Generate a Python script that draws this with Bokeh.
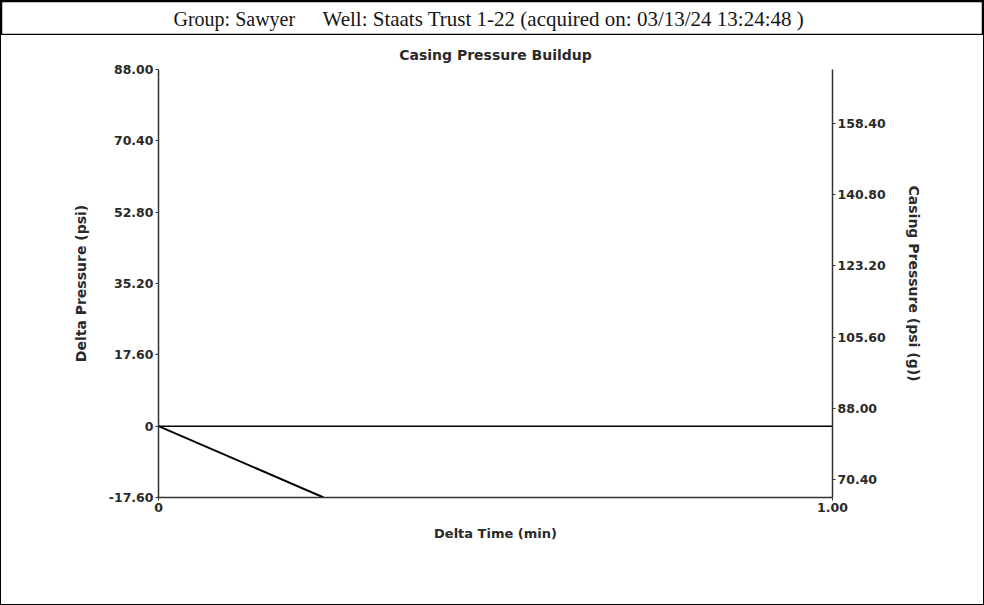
from bokeh.plotting import figure
from bokeh.models import Range1d, LinearAxis, FixedTicker, CustomJSTickFormatter
from bokeh.layouts import column
from bokeh.embed import file_html
from bokeh.resources import INLINE
from bokeh.core.properties import value

header_group = "Group: Sawyer"
header_well = "Well: Staats Trust 1-22 (acquired on: 03/13/24 13:24:48 )"
chart_title = "Casing Pressure Buildup"
x_label = "Delta Time (min)"
left_label = "Delta Pressure (psi)"
right_label = "Casing Pressure (psi (g))"

# data
time_min = [0.0, 0.245]
delta_psi = [0.0, -17.6]
casing_time = [0.0, 1.0]
casing_psi = [83.6, 83.6]

x_ticks = [0.0, 1.0]
left_ticks = [-17.6, 0.0, 17.6, 35.2, 52.8, 70.4, 88.0]
right_ticks = [70.4, 88.0, 105.6, 123.2, 140.8, 158.4]

FONT = "DejaVu Sans"
TXT = "#2a2a2a"
W = 982

# header strip
h = figure(width=W, height=34, x_range=(0, W), y_range=(0, 34),
           toolbar_location=None, output_backend="svg", min_border=0,
           x_axis_location=None, y_axis_location=None)
h.frame_align = False
h.grid.visible = False
h.outline_line_color = "black"
h.outline_line_width = 1.5
h.text(x=[172], y=[17], text=[header_group], text_align="left",
       text_baseline="middle", text_font=value("Liberation Serif"),
       text_font_size="20px", text_color="#151515")
h.text(x=[321], y=[17], text=[header_well], text_align="left",
       text_baseline="middle", text_font=value("Liberation Serif"),
       text_font_size="21px", text_color="#151515")

# main chart
p = figure(width=W, height=569, x_range=Range1d(0, 1), y_range=Range1d(-17.6, 88.0),
           toolbar_location=None, output_backend="svg",
           min_border_left=157, min_border_right=151, min_border_top=34, min_border_bottom=107)
p.frame_align = False
p.extra_y_ranges = {"casing": Range1d(66.0, 171.6)}
p.grid.visible = False
p.outline_line_color = None

p.title.text = chart_title
p.title.align = "center"
p.title.offset = -5
p.title.text_font = FONT
p.title.text_font_style = "bold"
p.title.text_font_size = "14px"
p.title.text_color = TXT
p.title.standoff = 13

fmt = CustomJSTickFormatter(code="return Math.abs(tick) < 1e-9 ? '0' : tick.toFixed(2);")
p.xaxis[0].formatter = fmt
p.yaxis[0].formatter = fmt
p.xaxis.ticker = FixedTicker(ticks=x_ticks)
p.yaxis.ticker = FixedTicker(ticks=left_ticks)

right = LinearAxis(y_range_name="casing", ticker=FixedTicker(ticks=right_ticks),
                   formatter=fmt, axis_label=right_label)
p.add_layout(right, "right")

p.xaxis.axis_label = x_label
p.yaxis[0].axis_label = left_label

for ax in p.axis:
    ax.axis_line_color = "#333333"
    ax.axis_line_width = 1.5
    ax.major_tick_line_color = "#333333"
    ax.major_tick_out = 3
    ax.major_tick_in = 0
    ax.minor_tick_line_color = None
    ax.major_label_text_font = FONT
    ax.major_label_text_font_style = "bold"
    ax.major_label_text_font_size = "12.5px"
    ax.major_label_text_color = TXT
    ax.axis_label_text_font = FONT
    ax.axis_label_text_font_style = "bold"
    ax.axis_label_text_font_size = "14px"
    ax.axis_label_text_color = TXT
    ax.major_label_standoff = 2

p.xaxis.axis_label_text_font_size = "13px"
p.xaxis.axis_label_standoff = 11
p.yaxis[0].axis_label_standoff = 17
right.axis_label_standoff = 17

p.line(casing_time, casing_psi, y_range_name="casing", line_color="black", line_width=1.5)
p.line(time_min, delta_psi, line_color="black", line_width=2)

layout = column(h, p, styles={"border": "1px solid black"})

open("out.html", "w").write(file_html(layout, INLINE))
